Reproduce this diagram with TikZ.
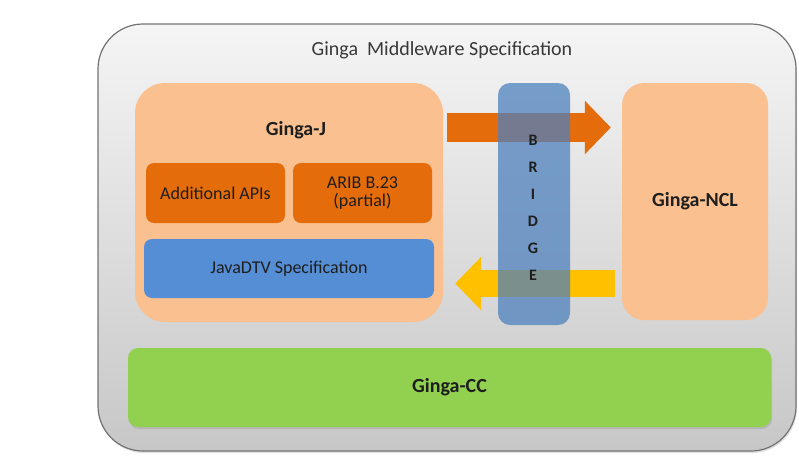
\documentclass[tikz,border=0pt]{standalone}
\usepackage{fontspec}
\setmainfont{Carlito}
\usetikzlibrary{arrows.meta,shadows}
\definecolor{peach}{HTML}{FAC090}
\definecolor{darkorange}{HTML}{E46C0A}
\definecolor{javablue}{HTML}{558ED5}
\definecolor{bridgeblue}{HTML}{4F81BD}
\definecolor{ccgreen}{HTML}{92D050}
\definecolor{arrowyellow}{HTML}{FFC000}
\definecolor{labeltext}{HTML}{1E1E1E}
\begin{document}
\begin{tikzpicture}[x=1pt,y=-1pt,
        block/.style={rectangle,rounded corners=#1,inner sep=0pt,align=center,text=labeltext},
        block/.default=10pt,
        bigfont/.style={font=\bfseries\fontsize{20}{24}\selectfont},
        smallfont/.style={font=\fontsize{18}{20}\selectfont},
        fatarrow/.style={line width=#1,-{Triangle[length=26pt,width=52pt]}},
        softshadow/.style={drop shadow={shadow xshift=1pt,shadow yshift=-2pt,opacity=0.25}}]
            \useasboundingbox (0,0) rectangle (799,467);
            \node (frame) at (447,237.5) [block=45pt,draw=black!55,line width=1.2pt,top color=black!4,bottom color=black!22,softshadow,minimum width=698pt,minimum height=427pt] {};
            \node (title) at (442,50) [text=black!78,font=\fontsize{20}{24}\selectfont] {Ginga\ \ Middleware Specification};

            \node (gingaj) at (289,202.5) [block=30pt,fill=peach,minimum width=308pt,minimum height=239pt] {};
            \node (gingajlabel) at (296,130) [bigfont,text=labeltext] {Ginga-J};
            \node (addapis) at (215.5,193) [block=8pt,fill=darkorange,smallfont,minimum width=139pt,minimum height=60pt] {Additional APIs};
            \node (arib) at (362.5,193) [block=8pt,fill=darkorange,smallfont,minimum width=139pt,minimum height=60pt] {ARIB B.23\\[-2pt](partial)};
            \node (javadtv) at (289,268.5) [block=8pt,fill=javablue,smallfont,minimum width=290pt,minimum height=59pt] {JavaDTV Specification};

            \node (gingancl) at (695,201.5) [block=22pt,fill=peach,bigfont,minimum width=146pt,minimum height=237pt] {Ginga-NCL};
            \node (gingacc) at (449.5,387.5) [block=10pt,fill=ccgreen,bigfont,softshadow,minimum width=643pt,minimum height=79pt] {Ginga-CC};

            \coordinate (uplane) at (0,127.5);
            \coordinate (downlane) at (0,283.5);
            \draw[fatarrow=29pt,draw=darkorange,fill=darkorange,shorten <=4pt,shorten >=11pt] (gingaj.east |- uplane) -- (gingancl.west |- uplane);
            \draw[fatarrow=27pt,draw=arrowyellow,fill=arrowyellow,shorten <=7pt,shorten >=12pt] (gingancl.west |- downlane) -- (gingaj.east |- downlane);

            \node (bridge) at (534,204) [block=12pt,fill=bridgeblue,fill opacity=0.75,minimum width=72pt,minimum height=242pt] {};
            \node (bridgelabel) at (533,208) [align=center,text=labeltext,font=\bfseries\fontsize{16}{27}\selectfont] {B\\R\\I\\D\\G\\E};

        \end{tikzpicture}
\end{document}
